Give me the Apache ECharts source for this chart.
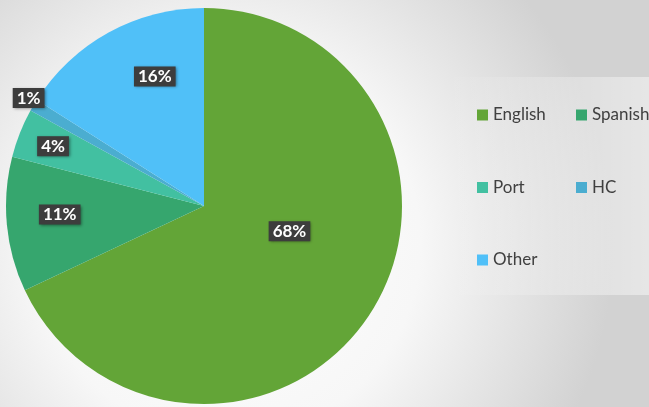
<!DOCTYPE html>
<html>
<head>
<meta charset="utf-8">
<script src="https://cdn.jsdelivr.net/npm/echarts@6/dist/echarts.min.js"></script>
<style>
  html, body { margin: 0; padding: 0; }
  #chart { width: 649px; height: 407px; }
</style>
</head>
<body>
<div id="chart"></div>
<script>
  // languages, clockwise from 12 o'clock
  var categories = ['English', 'Spanish', 'Port', 'HC', 'Other'];
  var shares = [68, 11, 4, 1, 16];
  var colors = ['#63a537', '#36a66e', '#42c0a1', '#4badd0', '#50c0f8'];

  // where Excel "best fit" put the labels: fraction of radius, angle shift (deg)
  var labelRadius = [0.45, 0.73, 0.82, 1.04, 0.70];
  var labelShift = [-16, 2, 0, 1, 8];

  var cx = 204, cy = 206, R = 198;

  var myChart = echarts.init(document.getElementById('chart'));

  var pieData = [];
  for (var i = 0; i < categories.length; i++) {
    pieData.push({ name: categories[i], value: shares[i], itemStyle: { color: colors[i] } });
  }

  var legendText = { color: '#404040', fontSize: 17, fontFamily: 'Lato', lineHeight: 18 };

  var option = {
    backgroundColor: {
      type: 'radial', x: 0.35, y: 0.6, r: 0.95,
      colorStops: [
        { offset: 0, color: '#ffffff' },
        { offset: 0.5, color: '#f7f7f7' },
        { offset: 1, color: '#d2d2d2' }
      ]
    },
    graphic: [{
      type: 'rect',
      shape: { x: 445, y: 77, width: 204, height: 218 },
      style: {
        fill: {
          type: 'linear', x: 0, y: 0, x2: 1, y2: 0,
          colorStops: [
            { offset: 0, color: 'rgba(255,255,255,0)' },
            { offset: 1, color: 'rgba(255,255,255,0.45)' }
          ]
        }
      },
      z: -1
    }],
    legend: [{
      data: ['English', 'Port', 'Other'],
      orient: 'vertical',
      left: 472, top: 101,
      itemWidth: 11, itemHeight: 11, itemGap: 54.5,
      icon: 'rect',
      textStyle: legendText
    }, {
      data: ['Spanish', 'HC'],
      orient: 'vertical',
      left: 571, top: 101,
      itemWidth: 11, itemHeight: 11, itemGap: 54.5,
      icon: 'rect',
      textStyle: legendText
    }],
    series: [{
      type: 'pie',
      center: [cx, cy],
      radius: R,
      startAngle: 90,
      clockwise: true,
      silent: true,
      label: {
        show: true,
        position: 'inside',
        formatter: '{c}%',
        color: '#ffffff',
        fontFamily: 'Lato',
        fontWeight: 'bold',
        fontSize: 17,
        backgroundColor: '#3d3d3d',
        padding: [2, 4, 1, 4],
        shadowColor: 'rgba(0,0,0,0.45)',
        shadowBlur: 3,
        shadowOffsetX: 1,
        shadowOffsetY: 1
      },
      labelLine: { show: false },
      labelLayout: function (p) {
        var lx = p.labelRect.x + p.labelRect.width / 2;
        var ly = p.labelRect.y + p.labelRect.height / 2;
        var a = Math.atan2(ly - cy, lx - cx) + labelShift[p.dataIndex] * Math.PI / 180;
        var d = labelRadius[p.dataIndex] * R;
        return {
          x: cx + Math.cos(a) * d,
          y: cy + Math.sin(a) * d,
          align: 'center',
          verticalAlign: 'middle'
        };
      },
      data: pieData
    }]
  };

  myChart.setOption(option);
</script>
</body>
</html>
